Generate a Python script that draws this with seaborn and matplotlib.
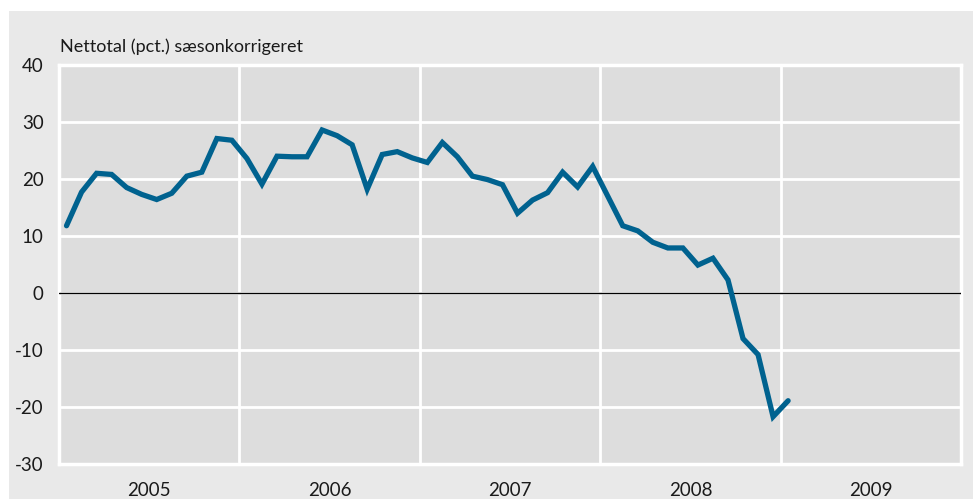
import numpy as np
import pandas as pd
import matplotlib
matplotlib.use("Agg")
import matplotlib.pyplot as plt
import seaborn as sns
from matplotlib.patches import Rectangle

# ---- data (monthly, Jan 2005 - Jan 2009) ----
values_2005 = [11.8, 17.7, 21.0, 20.8, 18.5, 17.3, 16.4, 17.5, 20.5, 21.2, 27.1, 26.8]
values_2006 = [23.6, 19.1, 24.0, 23.9, 23.9, 28.6, 27.6, 26.0, 18.2, 24.3, 24.8, 23.7]
values_2007 = [22.9, 26.4, 23.9, 20.5, 19.9, 19.0, 14.0, 16.3, 17.6, 21.2, 18.6, 22.2]
values_2008 = [17.0, 11.8, 10.9, 8.9, 7.9, 7.9, 4.9, 6.1, 2.3, -8.0, -10.8, -21.7]
values_2009 = [-18.9]
year_labels = ["2005", "2006", "2007", "2008", "2009"]
y_ticks = [40, 30, 20, 10, 0, -10, -20, -30]
y_title = "Nettotal (pct.) sæsonkorrigeret"

values = values_2005 + values_2006 + values_2007 + values_2008 + values_2009
t = [2005 + (i + 0.5) / 12 for i in range(len(values))]
df = pd.DataFrame({"t": t, "v": values})

sns.set_style("white")
plt.rcParams["font.family"] = ["Lato", "DejaVu Sans"]

W, H = 973, 499
fig = plt.figure(figsize=(W / 100, H / 100), dpi=100)
fig.patch.set_facecolor("white")
fig.add_artist(Rectangle((9 / W, 0), 1 - 9 / W, 1 - 11 / H, transform=fig.transFigure,
                         facecolor="#e9e9e9", edgecolor="none", zorder=0))

ax = fig.add_axes([59 / W, (H - 464) / H, (961 - 59) / W, (464 - 65) / H])
ax.set_facecolor("#dddddd")
ax.set_zorder(1)

sns.lineplot(data=df, x="t", y="v", ax=ax, color="#00628f", linewidth=3.8,
             solid_joinstyle="miter", zorder=5)

ax.set_xlim(2005, 2010)
ax.set_ylim(-30, 40)
ax.set_yticks(y_ticks)
ax.set_yticklabels([str(v) for v in y_ticks], fontsize=13.5, color="#1a1a1a")
ax.set_xticks([2006, 2007, 2008, 2009])
ax.set_xticklabels([])
ax.set_xticks([2005.5 + i for i in range(len(year_labels))], minor=True)
ax.set_xticklabels(year_labels, minor=True, fontsize=13.5, color="#1a1a1a")
ax.tick_params(axis="both", which="both", length=0)
ax.tick_params(axis="y", pad=11)
ax.tick_params(axis="x", which="minor", pad=13)
ax.grid(True, axis="both", which="major", color="white", linewidth=2)
ax.set_axisbelow(True)
ax.axhline(0, color="black", linewidth=1, zorder=4)
for s in ax.spines.values():
    s.set_color("white")
    s.set_linewidth(2.5)
ax.set_xlabel("")
ax.set_ylabel("")

fig.text(60 / W, 1 - 47 / H, y_title, fontsize=13, color="#1a1a1a", ha="left", va="center")

fig.savefig("out.png", dpi=100)
